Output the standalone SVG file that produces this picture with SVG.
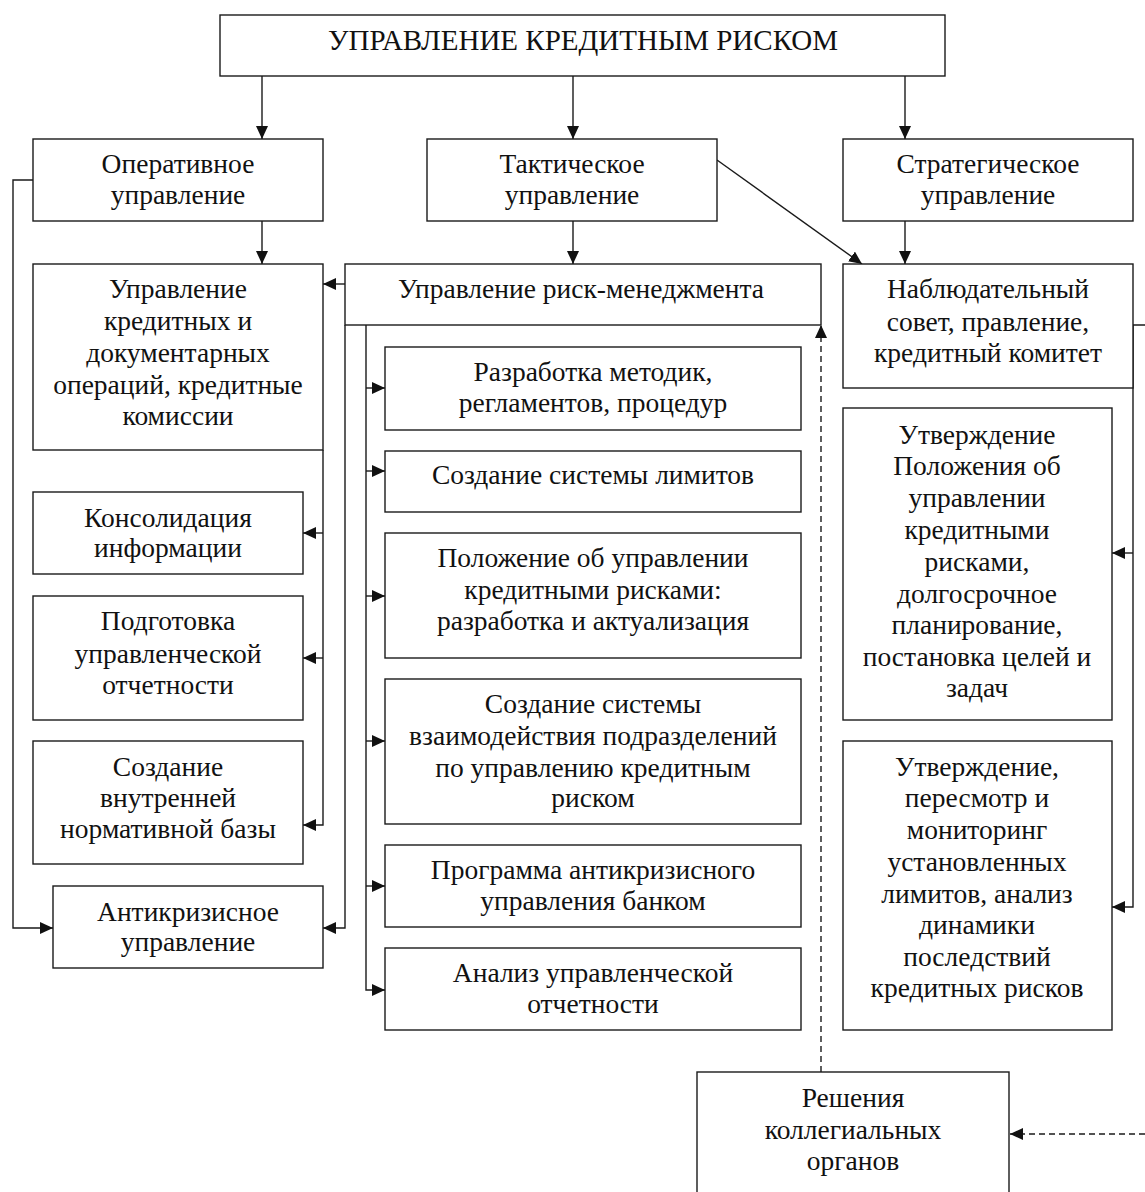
<svg xmlns="http://www.w3.org/2000/svg" width="1145" height="1192" viewBox="0 0 1145 1192">
<style>
.box{fill:#fff;stroke:#1a1a1a;stroke-width:1.4}
.t{font-family:"Liberation Serif","Times New Roman",serif;font-size:27.5px;fill:#111;text-anchor:middle}
.c{fill:none;stroke:#1a1a1a;stroke-width:1.4}
.d{stroke-dasharray:6 4}
.a{marker-end:url(#ah)}
</style>
<defs>
<marker id="ah" markerUnits="userSpaceOnUse" markerWidth="13" markerHeight="12" refX="13" refY="6" orient="auto">
<path d="M0,0 L13,6 L0,12 z" fill="#111"/>
</marker>
</defs>
<rect width="1145" height="1192" fill="#fff"/>
<g id="connectors">
<path class="c a" d="M262,76 V139"/>
<path class="c a" d="M573,76 V139"/>
<path class="c a" d="M905,76 V139"/>
<path class="c a" d="M262,221 V264"/>
<path class="c a" d="M573,221 V264"/>
<path class="c a" d="M905,221 V264"/>
<path class="c a" d="M717,160 L862,264"/>
<path class="c a" d="M345,284 H323"/>
<path class="c a" d="M33,180 H13 V928 H53"/>
<path class="c a" d="M323,450 V825 H303"/>
<path class="c a" d="M323,533 H303"/>
<path class="c a" d="M323,658 H303"/>
<path class="c a" d="M345,325 V928 H323"/>
<path class="c a" d="M366,325 V990 H385"/>
<path class="c a" d="M366,388 H385"/>
<path class="c a" d="M366,471 H385"/>
<path class="c a" d="M366,596 H385"/>
<path class="c a" d="M366,741 H385"/>
<path class="c a" d="M366,886 H385"/>
<path class="c a" d="M1145,325 H1133 V907 H1112"/>
<path class="c a" d="M1133,553 H1112"/>
<path class="c d a" d="M821,1072 V325"/>
<path class="c d a" d="M1145,1134 H1010"/>
</g>
<g id="root"><rect class="box" x="220" y="15" width="725" height="61"/><text class="t" x="583" y="50" style="font-size:29px">УПРАВЛЕНИЕ КРЕДИТНЫМ РИСКОМ</text></g>
<g id="oper"><rect class="box" x="33" y="139" width="290" height="82"/><text class="t" x="178" y="173">Оперативное</text><text class="t" x="178" y="204">управление</text></g>
<g id="takt"><rect class="box" x="427" y="139" width="290" height="82"/><text class="t" x="572" y="173">Тактическое</text><text class="t" x="572" y="204">управление</text></g>
<g id="strat"><rect class="box" x="843" y="139" width="290" height="82"/><text class="t" x="988" y="173">Стратегическое</text><text class="t" x="988" y="204">управление</text></g>
<g id="kred"><rect class="box" x="33" y="264" width="290" height="186"/>
<text class="t" x="178" y="298">Управление</text><text class="t" x="178" y="330">кредитных и</text><text class="t" x="178" y="362">документарных</text><text class="t" x="178" y="394">операций, кредитные</text><text class="t" x="178" y="425">комиссии</text></g>
<g id="risk"><rect class="box" x="345" y="264" width="476" height="61"/><text class="t" x="581" y="298">Управление риск-менеджмента</text></g>
<g id="nabl"><rect class="box" x="843" y="264" width="290" height="124"/>
<text class="t" x="988" y="298">Наблюдательный</text><text class="t" x="988" y="331">совет, правление,</text><text class="t" x="988" y="362">кредитный комитет</text></g>
<g id="konsol"><rect class="box" x="33" y="492" width="270" height="82"/><text class="t" x="168" y="527">Консолидация</text><text class="t" x="168" y="557">информации</text></g>
<g id="podg"><rect class="box" x="33" y="596" width="270" height="124"/><text class="t" x="168" y="630">Подготовка</text><text class="t" x="168" y="663">управленческой</text><text class="t" x="168" y="694">отчетности</text></g>
<g id="vnutr"><rect class="box" x="33" y="741" width="270" height="123"/><text class="t" x="168" y="776">Создание</text><text class="t" x="168" y="807">внутренней</text><text class="t" x="168" y="838">нормативной базы</text></g>
<g id="anti"><rect class="box" x="53" y="886" width="270" height="82"/><text class="t" x="188" y="921">Антикризисное</text><text class="t" x="188" y="951">управление</text></g>
<g id="razr"><rect class="box" x="385" y="347" width="416" height="83"/><text class="t" x="593" y="381">Разработка методик,</text><text class="t" x="593" y="412">регламентов, процедур</text></g>
<g id="limit"><rect class="box" x="385" y="451" width="416" height="61"/><text class="t" x="593" y="484">Создание системы лимитов</text></g>
<g id="polozh"><rect class="box" x="385" y="533" width="416" height="125"/><text class="t" x="593" y="567">Положение об управлении</text><text class="t" x="593" y="599">кредитными рисками:</text><text class="t" x="593" y="630">разработка и актуализация</text></g>
<g id="vzaim"><rect class="box" x="385" y="679" width="416" height="145"/><text class="t" x="593" y="713">Создание системы</text><text class="t" x="593" y="745">взаимодействия подразделений</text><text class="t" x="593" y="777">по управлению кредитным</text><text class="t" x="593" y="807">риском</text></g>
<g id="progr"><rect class="box" x="385" y="845" width="416" height="82"/><text class="t" x="593" y="879">Программа антикризисного</text><text class="t" x="593" y="910">управления банком</text></g>
<g id="analiz"><rect class="box" x="385" y="948" width="416" height="82"/><text class="t" x="593" y="982">Анализ управленческой</text><text class="t" x="593" y="1013">отчетности</text></g>
<g id="utv1"><rect class="box" x="843" y="408" width="269" height="312"/>
<text class="t" x="977" y="444">Утверждение</text><text class="t" x="977" y="475">Положения об</text><text class="t" x="977" y="507">управлении</text><text class="t" x="977" y="539">кредитными</text><text class="t" x="977" y="571">рисками,</text><text class="t" x="977" y="603">долгосрочное</text><text class="t" x="977" y="634">планирование,</text><text class="t" x="977" y="666">постановка целей и</text><text class="t" x="977" y="697">задач</text></g>
<g id="utv2"><rect class="box" x="843" y="741" width="269" height="289"/>
<text class="t" x="977" y="776">Утверждение,</text><text class="t" x="977" y="807">пересмотр и</text><text class="t" x="977" y="839">мониторинг</text><text class="t" x="977" y="871">установленных</text><text class="t" x="977" y="903">лимитов, анализ</text><text class="t" x="977" y="934">динамики</text><text class="t" x="977" y="966">последствий</text><text class="t" x="977" y="997">кредитных рисков</text></g>
<g id="resh"><rect class="box" x="697" y="1072" width="312" height="130"/><text class="t" x="853" y="1107">Решения</text><text class="t" x="853" y="1139">коллегиальных</text><text class="t" x="853" y="1170">органов</text></g>
</svg>
